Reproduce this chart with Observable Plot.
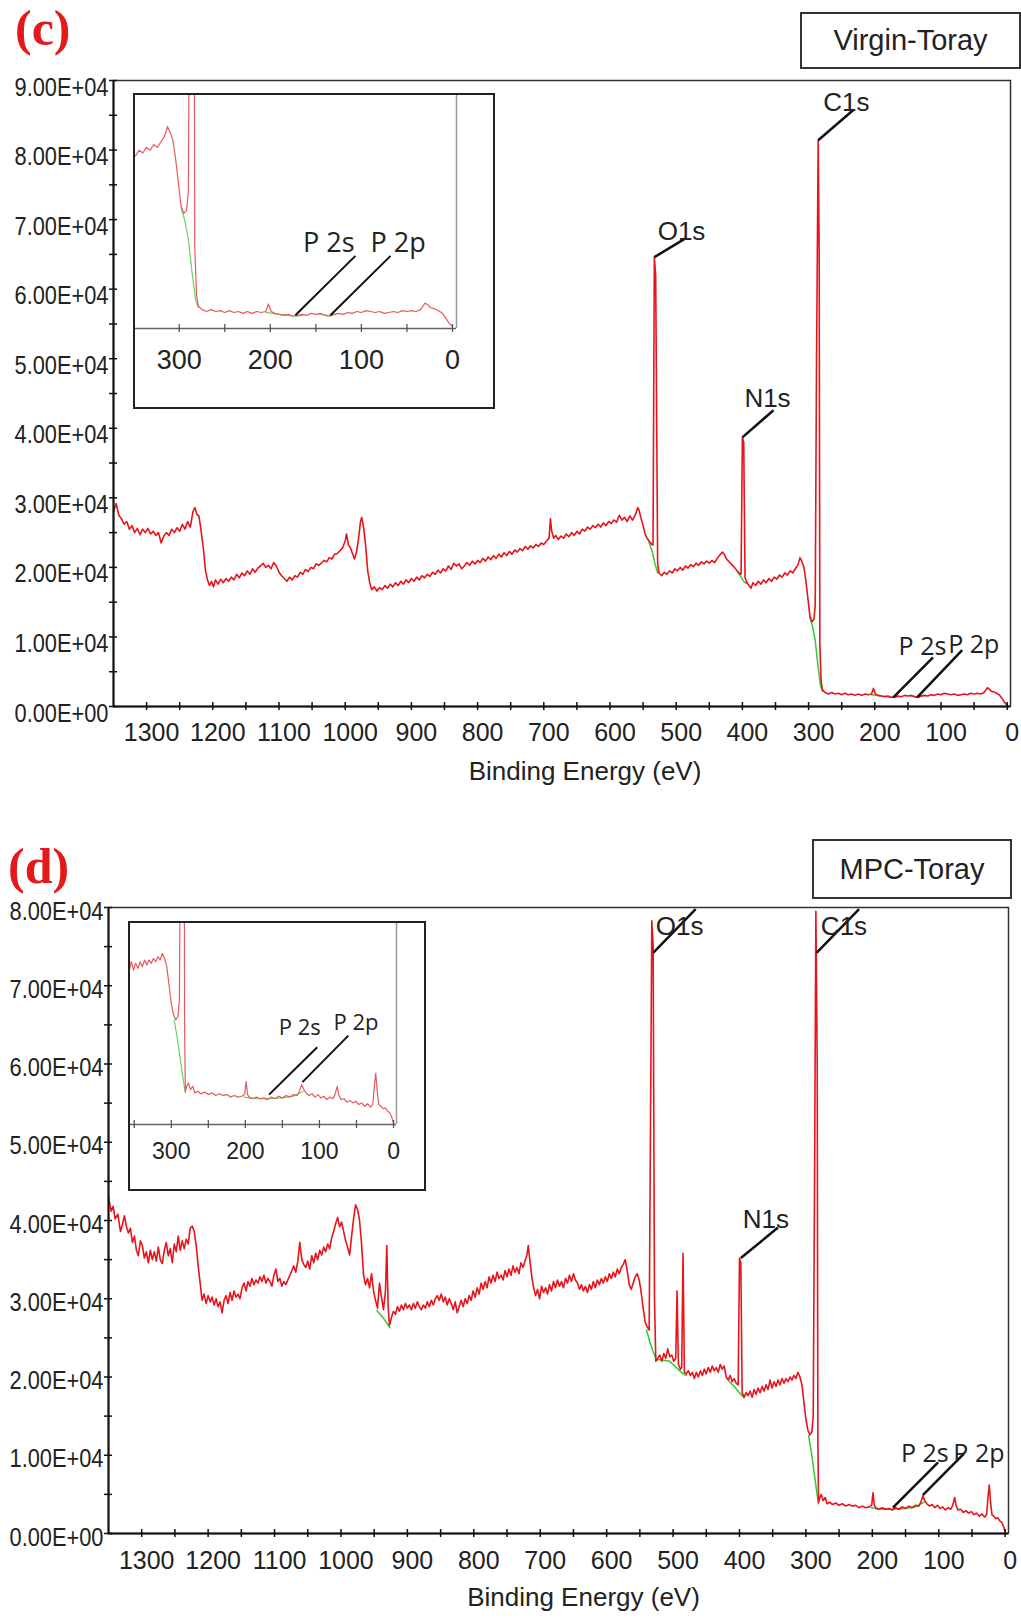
<!DOCTYPE html>
<html><head><meta charset="utf-8">
<script src="https://cdn.jsdelivr.net/npm/d3@7"></script>
<script src="https://cdn.jsdelivr.net/npm/@observablehq/plot@0.6"></script>
<style>
body{margin:0;background:#fff;}
#page{position:relative;width:1021px;height:1623px;overflow:hidden;font-family:"Liberation Sans",Arial,sans-serif;background:#fff;}
.panel{position:absolute;left:0;}
.tag{position:absolute;font-family:"Liberation Serif","Times New Roman",serif;font-weight:bold;color:#e3191c;font-size:50px;line-height:1;}
.box{position:absolute;border:2px solid #333;font-size:29px;color:#222;display:flex;align-items:center;justify-content:center;box-sizing:border-box;background:#fff;font-family:"Liberation Sans",Arial,sans-serif;}
.inset{position:absolute;border:2px solid #222;background:#fff;box-sizing:border-box;}
.inset svg{display:block;}
</style></head><body><div id="page"></div><script>
// ---------- DATA ----------
// Binding energy (eV) / intensity (x1e4 counts), Virgin-Toray
const spectrumC = [[1350,2.80],[1346,2.92],[1342,2.75],[1338,2.70],[1334,2.62],[1330,2.66],[1326,2.55],[1322,2.60],[1318,2.50],[1314,2.56],[1310,2.47],[1306,2.55],[1302,2.50],[1298,2.56],[1294,2.48],[1290,2.52],[1286,2.46],[1282,2.50],[1278,2.35],[1274,2.45],[1270,2.50],[1266,2.46],[1262,2.55],[1258,2.50],[1254,2.57],[1250,2.52],[1246,2.62],[1242,2.55],[1238,2.66],[1234,2.58],[1230,2.80],[1227,2.86],[1224,2.76],[1221,2.74],[1218,2.55],[1214,2.25],[1211,1.95],[1208,1.82],[1205,1.74],[1202,1.80],[1199,1.72],[1196,1.82],[1192,1.76],[1188,1.83],[1184,1.78],[1180,1.84],[1176,1.80],[1172,1.86],[1168,1.82],[1164,1.90],[1160,1.85],[1156,1.92],[1152,1.88],[1148,1.95],[1144,1.90],[1140,1.98],[1136,1.93],[1132,1.99],[1128,2.02],[1124,2.06],[1120,2.00],[1116,2.03],[1112,1.98],[1108,2.07],[1104,2.02],[1100,1.93],[1096,1.88],[1092,1.84],[1088,1.80],[1084,1.86],[1080,1.82],[1076,1.88],[1072,1.86],[1068,1.93],[1064,1.90],[1060,1.97],[1056,1.94],[1052,2.00],[1048,1.98],[1044,2.05],[1040,2.03],[1036,2.06],[1032,2.10],[1028,2.08],[1024,2.14],[1020,2.12],[1016,2.19],[1012,2.20],[1008,2.24],[1004,2.28],[1000,2.38],[998,2.48],[995,2.32],[992,2.28],[989,2.20],[986,2.12],[983,2.22],[980,2.40],[977,2.65],[975,2.72],[972,2.56],[969,2.30],[966,1.95],[963,1.78],[960,1.68],[956,1.72],[952,1.66],[948,1.71],[944,1.68],[940,1.74],[936,1.70],[932,1.76],[928,1.72],[924,1.78],[920,1.74],[916,1.80],[912,1.76],[908,1.82],[904,1.78],[900,1.84],[896,1.80],[892,1.86],[888,1.82],[884,1.88],[880,1.85],[876,1.90],[872,1.87],[868,1.93],[864,1.90],[860,1.96],[856,1.92],[852,1.98],[848,1.95],[844,2.02],[840,1.97],[836,2.06],[832,2.02],[828,2.05],[824,1.98],[820,2.02],[816,2.07],[812,2.03],[808,2.09],[804,2.05],[800,2.10],[796,2.07],[792,2.13],[788,2.09],[784,2.15],[780,2.11],[776,2.17],[772,2.13],[768,2.19],[764,2.15],[760,2.21],[756,2.17],[752,2.23],[748,2.19],[744,2.25],[740,2.22],[736,2.27],[732,2.24],[728,2.30],[724,2.26],[720,2.31],[716,2.28],[712,2.33],[708,2.30],[704,2.35],[700,2.33],[696,2.38],[692,2.42],[690,2.70],[688,2.52],[685,2.42],[682,2.46],[678,2.40],[674,2.45],[670,2.42],[666,2.48],[662,2.44],[658,2.50],[654,2.46],[650,2.52],[646,2.48],[642,2.55],[638,2.52],[634,2.58],[630,2.55],[626,2.60],[622,2.57],[618,2.62],[614,2.58],[610,2.64],[606,2.60],[602,2.66],[598,2.63],[594,2.68],[590,2.65],[586,2.75],[582,2.68],[578,2.72],[574,2.66],[570,2.74],[566,2.68],[562,2.75],[558,2.86],[556,2.82],[553,2.70],[550,2.60],[547,2.48],[544,2.42],[541,2.38],[538,2.34],[535,2.32],[533,6.46],[531,6.20],[528,2.05],[526,1.92],[522,1.88],[518,1.93],[514,1.90],[510,1.95],[506,1.92],[502,1.98],[498,1.95],[494,2.00],[490,1.96],[486,2.02],[482,1.99],[478,2.04],[474,2.01],[470,2.06],[466,2.03],[462,2.08],[458,2.05],[454,2.09],[450,2.06],[446,2.10],[442,2.07],[438,2.13],[434,2.18],[430,2.22],[427,2.18],[424,2.12],[420,2.08],[416,2.04],[412,2.00],[408,1.95],[405,1.92],[402,1.90],[400,3.87],[398,3.80],[396,1.85],[393,1.78],[390,1.74],[387,1.70],[384,1.78],[380,1.74],[376,1.80],[372,1.76],[368,1.82],[364,1.78],[360,1.84],[356,1.80],[352,1.86],[348,1.83],[344,1.89],[340,1.86],[336,1.92],[332,1.89],[328,1.95],[324,1.92],[320,1.98],[316,2.04],[313,2.14],[310,2.08],[307,2.00],[304,1.80],[301,1.55],[298,1.30],[295,1.22],[292,1.25],[290,1.45],[288,5.00],[285.5,8.14],[284,6.50],[283,0.90],[281,0.35],[279,0.24],[275,0.20],[270,0.18],[265,0.20],[260,0.18],[255,0.19],[250,0.17],[245,0.19],[240,0.17],[235,0.18],[230,0.16],[225,0.18],[220,0.16],[215,0.18],[210,0.17],[205,0.18],[202,0.26],[199,0.18],[195,0.16],[190,0.15],[185,0.14],[180,0.15],[175,0.13],[170,0.14],[165,0.15],[160,0.14],[155,0.16],[150,0.15],[145,0.16],[140,0.14],[135,0.13],[130,0.15],[125,0.16],[120,0.15],[115,0.17],[110,0.16],[105,0.18],[100,0.17],[95,0.19],[90,0.18],[85,0.17],[80,0.18],[75,0.16],[70,0.17],[65,0.18],[60,0.17],[55,0.19],[50,0.18],[45,0.19],[40,0.18],[35,0.20],[30,0.27],[27,0.25],[24,0.22],[20,0.21],[16,0.19],[12,0.17],[8,0.12],[4,0.06],[0,0.02]];

// Background (green) segments, Virgin-Toray: [segment, energy, intensity x1e4]
const backgroundC = [["O",541,2.36],["O",536,2.22],["O",532,2.05],["O",528,1.92],
  ["N",407,1.93],["N",402,1.86],["N",398,1.80],["N",394,1.77],
  ["C",298,1.28],["C",294,1.15],["C",290,0.95],["C",286,0.60],["C",282,0.30],["C",279,0.22],
  ["P2s",205,0.17],["P2s",190,0.15],["P2s",180,0.14],["P2s",170,0.13],["P2s",165,0.14],
  ["P2p",146,0.15],["P2p",137,0.14],["P2p",128,0.15]];

// MPC-Toray
const spectrumD = [[1350,4.30],[1346,4.12],[1343,4.18],[1340,4.02],[1336,4.08],[1332,3.86],[1329,3.95],[1326,4.06],[1323,3.92],[1320,3.84],[1317,3.90],[1314,3.72],[1311,3.80],[1308,3.62],[1305,3.55],[1302,3.74],[1299,3.68],[1296,3.52],[1293,3.60],[1290,3.46],[1287,3.62],[1284,3.50],[1281,3.60],[1278,3.48],[1275,3.66],[1272,3.50],[1269,3.45],[1266,3.62],[1263,3.72],[1260,3.55],[1257,3.64],[1254,3.46],[1251,3.70],[1248,3.60],[1245,3.80],[1242,3.62],[1239,3.74],[1236,3.64],[1233,3.76],[1230,3.70],[1227,3.90],[1224,3.93],[1221,3.86],[1218,3.68],[1215,3.42],[1212,3.20],[1209,2.98],[1206,3.06],[1203,2.94],[1200,3.04],[1197,2.96],[1194,3.02],[1191,2.92],[1188,3.00],[1185,2.90],[1182,2.96],[1179,2.82],[1176,2.98],[1173,3.04],[1170,2.94],[1167,3.08],[1164,2.98],[1161,3.10],[1158,3.02],[1155,3.06],[1152,3.00],[1149,3.14],[1146,3.20],[1143,3.10],[1140,3.22],[1137,3.16],[1134,3.26],[1131,3.18],[1128,3.24],[1125,3.20],[1122,3.28],[1119,3.22],[1116,3.30],[1113,3.20],[1110,3.26],[1107,3.22],[1104,3.16],[1101,3.30],[1098,3.38],[1095,3.22],[1092,3.26],[1089,3.16],[1086,3.22],[1083,3.18],[1080,3.24],[1077,3.30],[1074,3.36],[1071,3.42],[1068,3.34],[1065,3.48],[1062,3.72],[1059,3.50],[1056,3.44],[1053,3.40],[1050,3.48],[1047,3.38],[1044,3.55],[1041,3.46],[1038,3.58],[1035,3.50],[1032,3.62],[1029,3.56],[1026,3.66],[1023,3.60],[1020,3.70],[1017,3.64],[1014,3.78],[1011,3.86],[1008,3.96],[1005,4.04],[1002,3.92],[999,3.98],[996,3.86],[993,3.74],[990,3.66],[987,3.56],[984,3.80],[981,4.02],[978,4.20],[975,4.14],[972,4.00],[969,3.70],[966,3.30],[963,3.18],[960,3.26],[957,3.14],[954,3.32],[951,3.10],[948,2.98],[945,2.88],[942,3.20],[939,3.02],[936,2.86],[933,3.10],[931,3.68],[929,2.90],[927,2.66],[924,2.76],[921,2.84],[918,2.80],[915,2.90],[912,2.84],[909,2.92],[906,2.86],[903,2.94],[900,2.88],[897,2.92],[894,2.86],[891,2.94],[888,2.88],[885,2.96],[882,2.90],[879,2.86],[876,2.92],[873,2.88],[870,2.96],[867,2.90],[864,2.98],[861,2.92],[858,3.00],[855,3.04],[852,2.98],[849,3.06],[846,2.96],[843,3.02],[840,2.92],[837,3.00],[834,2.94],[831,2.86],[828,2.96],[825,2.82],[822,2.90],[819,2.98],[816,2.90],[813,3.00],[810,2.94],[807,3.04],[804,2.98],[801,3.10],[798,3.02],[795,3.14],[792,3.06],[789,3.20],[786,3.12],[783,3.22],[780,3.14],[777,3.28],[774,3.20],[771,3.30],[768,3.22],[765,3.34],[762,3.26],[759,3.30],[756,3.24],[753,3.36],[750,3.28],[747,3.38],[744,3.30],[741,3.42],[738,3.34],[735,3.40],[732,3.32],[729,3.46],[726,3.40],[723,3.48],[720,3.56],[718,3.68],[716,3.52],[713,3.30],[710,3.14],[707,3.04],[704,3.12],[701,3.00],[698,3.16],[695,3.08],[692,3.14],[689,3.06],[686,3.18],[683,3.10],[680,3.22],[677,3.14],[674,3.24],[671,3.16],[668,3.22],[665,3.14],[662,3.26],[659,3.20],[656,3.30],[653,3.22],[650,3.32],[647,3.24],[644,3.20],[641,3.12],[638,3.18],[635,3.10],[632,3.16],[629,3.08],[626,3.18],[623,3.12],[620,3.22],[617,3.14],[614,3.24],[611,3.18],[608,3.26],[605,3.20],[602,3.28],[599,3.22],[596,3.32],[593,3.26],[590,3.34],[587,3.28],[584,3.38],[581,3.32],[578,3.40],[575,3.44],[572,3.50],[569,3.36],[566,3.18],[563,3.12],[560,3.20],[557,3.28],[554,3.32],[551,3.24],[548,3.08],[545,2.88],[542,2.70],[539,2.64],[536,2.60],[534,5.20],[532,7.83],[530,7.50],[528,3.00],[526,2.20],[523,2.24],[520,2.28],[517,2.20],[514,2.30],[511,2.24],[508,2.36],[505,2.26],[502,2.28],[499,2.20],[496,2.24],[494,3.10],[492,2.16],[489,2.10],[487,2.12],[485,3.58],[483,2.06],[480,2.04],[477,2.08],[474,2.02],[471,2.06],[468,1.98],[465,2.06],[462,2.00],[459,2.08],[456,2.02],[453,2.10],[450,2.04],[447,2.12],[444,2.06],[441,2.14],[438,2.08],[435,2.12],[432,2.06],[429,2.16],[426,2.10],[423,2.14],[420,2.00],[417,1.96],[414,2.02],[411,1.94],[408,1.98],[405,1.92],[402,1.90],[400,3.52],[398,3.45],[396,1.80],[393,1.74],[390,1.80],[387,1.76],[384,1.82],[381,1.74],[378,1.84],[375,1.78],[372,1.86],[369,1.80],[366,1.88],[363,1.82],[360,1.90],[357,1.84],[354,1.96],[351,1.86],[348,1.94],[345,1.88],[342,1.96],[339,1.90],[336,1.98],[333,1.92],[330,1.98],[327,1.94],[324,2.00],[321,1.96],[318,2.02],[315,1.98],[312,2.06],[309,2.00],[306,1.90],[303,1.68],[300,1.46],[297,1.32],[294,1.26],[291,1.30],[289,1.50],[287,4.50],[285,7.95],[283,6.00],[282,1.20],[281,0.40],[279,0.46],[277,0.50],[274,0.42],[271,0.46],[268,0.38],[264,0.40],[260,0.37],[255,0.39],[250,0.36],[245,0.38],[240,0.35],[235,0.37],[230,0.35],[225,0.36],[220,0.33],[215,0.35],[210,0.33],[205,0.34],[201,0.36],[199,0.52],[197,0.36],[194,0.32],[190,0.31],[185,0.33],[180,0.31],[175,0.32],[170,0.30],[165,0.33],[160,0.31],[155,0.34],[150,0.32],[145,0.35],[140,0.33],[135,0.36],[130,0.35],[127,0.40],[124,0.48],[121,0.42],[118,0.38],[114,0.35],[110,0.37],[106,0.33],[102,0.36],[98,0.32],[94,0.34],[90,0.30],[86,0.33],[82,0.31],[79,0.36],[76,0.46],[74,0.36],[71,0.30],[67,0.31],[63,0.27],[59,0.29],[55,0.26],[51,0.28],[47,0.24],[43,0.26],[39,0.22],[35,0.25],[31,0.21],[28,0.24],[26,0.45],[24,0.62],[22,0.40],[20,0.24],[17,0.22],[14,0.19],[11,0.20],[8,0.16],[5,0.14],[2,0.08],[0,0.01]];

const backgroundD = [["S",946,2.85],["S",936,2.75],["S",926,2.63],
  ["O",540,2.60],["O",535,2.45],["O",530,2.32],["O",525,2.22],["O",520,2.22],["O",505,2.20],["O",495,2.12],["O",485,2.04],["O",480,2.02],
  ["N",416,1.95],["N",408,1.88],["N",400,1.80],["N",394,1.74],
  ["C",296,1.25],["C",292,1.05],["C",288,0.80],["C",284,0.55],["C",281,0.38],
  ["P",202,0.33],["P",185,0.31],["P",170,0.31],["P",150,0.32],["P",135,0.34],["P",122,0.40]];

// Peak annotations: [label, peak E, peak I(x1e4), leader end E, leader end I, label E, label I]
const peaksC = [["C1s",285.5,8.14,232,8.58,278,8.68],["O1s",533,6.46,486,6.73,528,6.83],["N1s",400,3.87,353,4.26,397,4.43]];
const phosC  = [["P 2s",172,0.13,112,0.705,164,0.85],["P 2p",136,0.13,68,0.81,89,0.89]];
const peaksD = [["O1s",530,7.42,466,7.98,526,7.75],["C1s",284,7.42,220,7.98,277.5,7.75],["N1s",398,3.52,342,3.91,395,4.01]];
const phosD  = [["P 2s",169,0.33,101,0.91,157,1.02],["P 2p",124,0.49,62,1.02,78,1.02]];
const insetPhosC = [["P 2s",172.5,0.14,106.6,0.77,164,0.90],["P 2p",134,0.14,68,0.77,90,0.90]];
const insetPhosD = [["P 2s",168,0.36,103,0.93,155,1.16],["P 2p",123,0.51,61,1.07,81,1.22]];

// Axes
const xTickValues = [1300,1250,1200,1150,1100,1050,1000,950,900,850,800,750,700,650,600,550,500,450,400,350,300,250,200,150,100,50,0];
const xTickLabels = [1300,1200,1100,1000,900,800,700,600,500,400,300,200,100,0];
const yTicksC = [0,5000,10000,15000,20000,25000,30000,35000,40000,45000,50000,55000,60000,65000,70000,75000,80000,85000,90000];
const yLabelValuesC = [0,10000,20000,30000,40000,50000,60000,70000,80000,90000];
const yLabelsC = ["0.00E+00","1.00E+04","2.00E+04","3.00E+04","4.00E+04","5.00E+04","6.00E+04","7.00E+04","8.00E+04","9.00E+04"];
const yTicksD = [0,5000,10000,15000,20000,25000,30000,35000,40000,45000,50000,55000,60000,65000,70000,75000,80000];
const yLabelValuesD = [0,10000,20000,30000,40000,50000,60000,70000,80000];
const yLabelsD = ["0.00E+00","1.00E+04","2.00E+04","3.00E+04","4.00E+04","5.00E+04","6.00E+04","7.00E+04","8.00E+04"];
const insetTicksC = [300,250,200,150,100,50,0];
const insetTicksD = [350,300,250,200,150,100,50,0];
const insetTickLabels = [300,200,100,0];
const xTitle = "Binding Energy (eV)";

// ---------- BUILD ----------
const toPts = arr => arr.map(([e, v]) => ({e, v: v * 1e4}));
const toBg = arr => arr.map(([s, e, v]) => ({s, e, v: v * 1e4}));
const toAnn = arr => arr.map(([label, x1, y1, x2, y2, tx, ty]) => ({label, x1, y1: y1 * 1e4, x2, y2: y2 * 1e4, tx, ty: ty * 1e4}));

const SANS = "Liberation Sans, Arial, sans-serif";
const HUM = "Open Sans, Noto Sans, sans-serif";

function mainPlot(cfg) {
  const svg = Plot.plot({
    width: 1021, height: cfg.height,
    marginLeft: cfg.ml, marginRight: cfg.mr, marginTop: cfg.mt, marginBottom: cfg.mb,
    x: {domain: cfg.xDomain, axis: null},
    y: {domain: cfg.yDomain, axis: null},
    style: {fontFamily: SANS, background: "transparent", overflow: "visible", color: "#222"},
    marks: [
      Plot.line(toBg(cfg.bg), {x: "e", y: "v", z: "s", stroke: "#35c935", strokeWidth: 1.5, clip: true}),
      Plot.line(toPts(cfg.data), {x: "e", y: "v", stroke: "#e8141c", strokeWidth: 1.6, clip: true}),
      Plot.frame({stroke: "#333", strokeWidth: 1.5}),
      Plot.ruleY([0], {stroke: "#111", strokeWidth: 2}),
      Plot.ruleX([cfg.xDomain[0]], {stroke: "#111", strokeWidth: 2}),
      Plot.ruleX(xTickValues, {x: d => d, y1: 0, y2: 0, insetTop: -4, insetBottom: -4, stroke: "#111", strokeWidth: 1.5}),
      Plot.ruleY(cfg.yTicks, {y: d => d, x1: cfg.xDomain[0], x2: cfg.xDomain[0], insetLeft: -4, insetRight: -4, stroke: "#111", strokeWidth: 1.5}),
      Plot.text(xTickLabels, {x: d => d, text: d => String(d), frameAnchor: "bottom", dy: cfg.xdy, dx: 5, fontSize: 25, fill: "#222"}),
      Plot.text(cfg.yLabelValues, {y: d => d, text: (d, i) => cfg.yLabels[i], frameAnchor: "left", textAnchor: "end", dx: -5, dy: cfg.ydy, fontSize: 25, fill: "#222"}),
      Plot.text([xTitle], {text: d => d, frameAnchor: "bottom", dy: cfg.tdy, dx: cfg.tdx, fontSize: 26, fill: "#222"}),
      Plot.link(toAnn(cfg.peaks), {x1: "x1", y1: "y1", x2: "x2", y2: "y2", stroke: "#111", strokeWidth: 2.5}),
      Plot.link(toAnn(cfg.phos), {x1: "x1", y1: "y1", x2: "x2", y2: "y2", stroke: "#111", strokeWidth: 2.5}),
      Plot.text(toAnn(cfg.peaks), {x: "tx", y: "ty", text: "label", textAnchor: "start", fontSize: 26, fill: "#222", fontFamily: SANS}),
      Plot.text(toAnn(cfg.phos), {x: "tx", y: "ty", text: "label", textAnchor: "start", fontSize: 25, fill: "#222", fontFamily: HUM})
    ]
  });
  // condensed scientific-notation tick labels, as in the original software export
  svg.querySelectorAll("text").forEach(t => {
    if (/E[+-]0/.test(t.textContent)) {
      t.setAttribute("textLength", "94");
      t.setAttribute("lengthAdjust", "spacingAndGlyphs");
    }
  });
  return svg;
}

function insetPlot(cfg) {
  return Plot.plot({
    width: cfg.w, height: cfg.h,
    marginLeft: 0, marginTop: 0, marginRight: cfg.mr, marginBottom: cfg.mb,
    x: {domain: cfg.xDomain, axis: null},
    y: {domain: cfg.yDomain, axis: null},
    style: {fontFamily: SANS, background: "transparent", overflow: "visible"},
    marks: [
      Plot.ruleX([cfg.xDomain[1]], {stroke: "#9a9a9a", strokeWidth: 1.5}),
      Plot.line(toBg(cfg.bg), {x: "e", y: "v", z: "s", stroke: "#6ad46a", strokeWidth: 1.2, clip: true}),
      Plot.line(toPts(cfg.data), {x: "e", y: "v", stroke: "#e45a5e", strokeWidth: 1.2, clip: true}),
      Plot.ruleY([0], {stroke: "#666", strokeWidth: 1.3}),
      Plot.ruleX(cfg.ticks, {x: d => d, y1: 0, y2: 0, insetTop: -4, insetBottom: -4, stroke: "#555", strokeWidth: 1.3}),
      Plot.text(insetTickLabels, {x: d => d, text: d => String(d), frameAnchor: "bottom", dy: cfg.ldy, fontSize: cfg.fs, fill: "#222"}),
      Plot.link(toAnn(cfg.ann), {x1: "x1", y1: "y1", x2: "x2", y2: "y2", stroke: "#111", strokeWidth: 2}),
      Plot.text(toAnn(cfg.ann), {x: "tx", y: "ty", text: "label", textAnchor: "start", fontSize: cfg.afs, fill: "#222", fontFamily: HUM})
    ]
  });
}

const page = document.getElementById("page");
function place(el, cls, left, top, w, h) {
  const d = document.createElement("div");
  d.className = cls;
  d.style.left = left + "px"; d.style.top = top + "px";
  if (w != null) d.style.width = w + "px";
  if (h != null) d.style.height = h + "px";
  if (el) d.appendChild(el);
  page.appendChild(d);
  return d;
}

// Panel (c)
place(mainPlot({
  height: 800, ml: 113, mr: 11, mt: 80, mb: 94,
  xDomain: [1350, -5], yDomain: [0, 90000],
  data: spectrumC, bg: backgroundC, peaks: peaksC, phos: phosC,
  yTicks: yTicksC, yLabelValues: yLabelValuesC, yLabels: yLabelsC,
  ydy: 7, xdy: 34, tdy: 73, tdx: 23
}), "panel", 0, 0);

// Panel (d)
place(mainPlot({
  height: 823, ml: 108, mr: 13, mt: 107, mb: 90,
  xDomain: [1350, -5], yDomain: [0, 80000],
  data: spectrumD, bg: backgroundD, peaks: peaksD, phos: phosD,
  yTicks: yTicksD, yLabelValues: yLabelValuesD, yLabels: yLabelsD,
  ydy: 4, xdy: 35, tdy: 72, tdx: 25
}), "panel", 0, 800);

// Insets
place(insetPlot({
  w: 358, h: 312, mr: 37, mb: 79,
  xDomain: [348, -4.4], yDomain: [0, 24700],
  data: spectrumC, bg: backgroundC, ann: insetPhosC, ticks: insetTicksC,
  ldy: 40, fs: 27, afs: 27
}), "inset", 133, 93, 362, 316);

place(insetPlot({
  w: 294, h: 266, mr: 28, mb: 65,
  xDomain: [355, -4], yDomain: [0, 24200],
  data: spectrumD, bg: backgroundD, ann: insetPhosD, ticks: insetTicksD,
  ldy: 34, fs: 23, afs: 22
}), "inset", 128, 921, 298, 270);

// Panel tags and sample boxes
const tc = place(null, "tag", 15, 3); tc.textContent = "(c)";
const td = place(null, "tag", 8, 841); td.textContent = "(d)";
const bc = place(null, "box", 800, 12, 221, 57); bc.textContent = "Virgin-Toray";
const bd = place(null, "box", 812, 839, 200, 60); bd.textContent = "MPC-Toray";
</script></body></html>
